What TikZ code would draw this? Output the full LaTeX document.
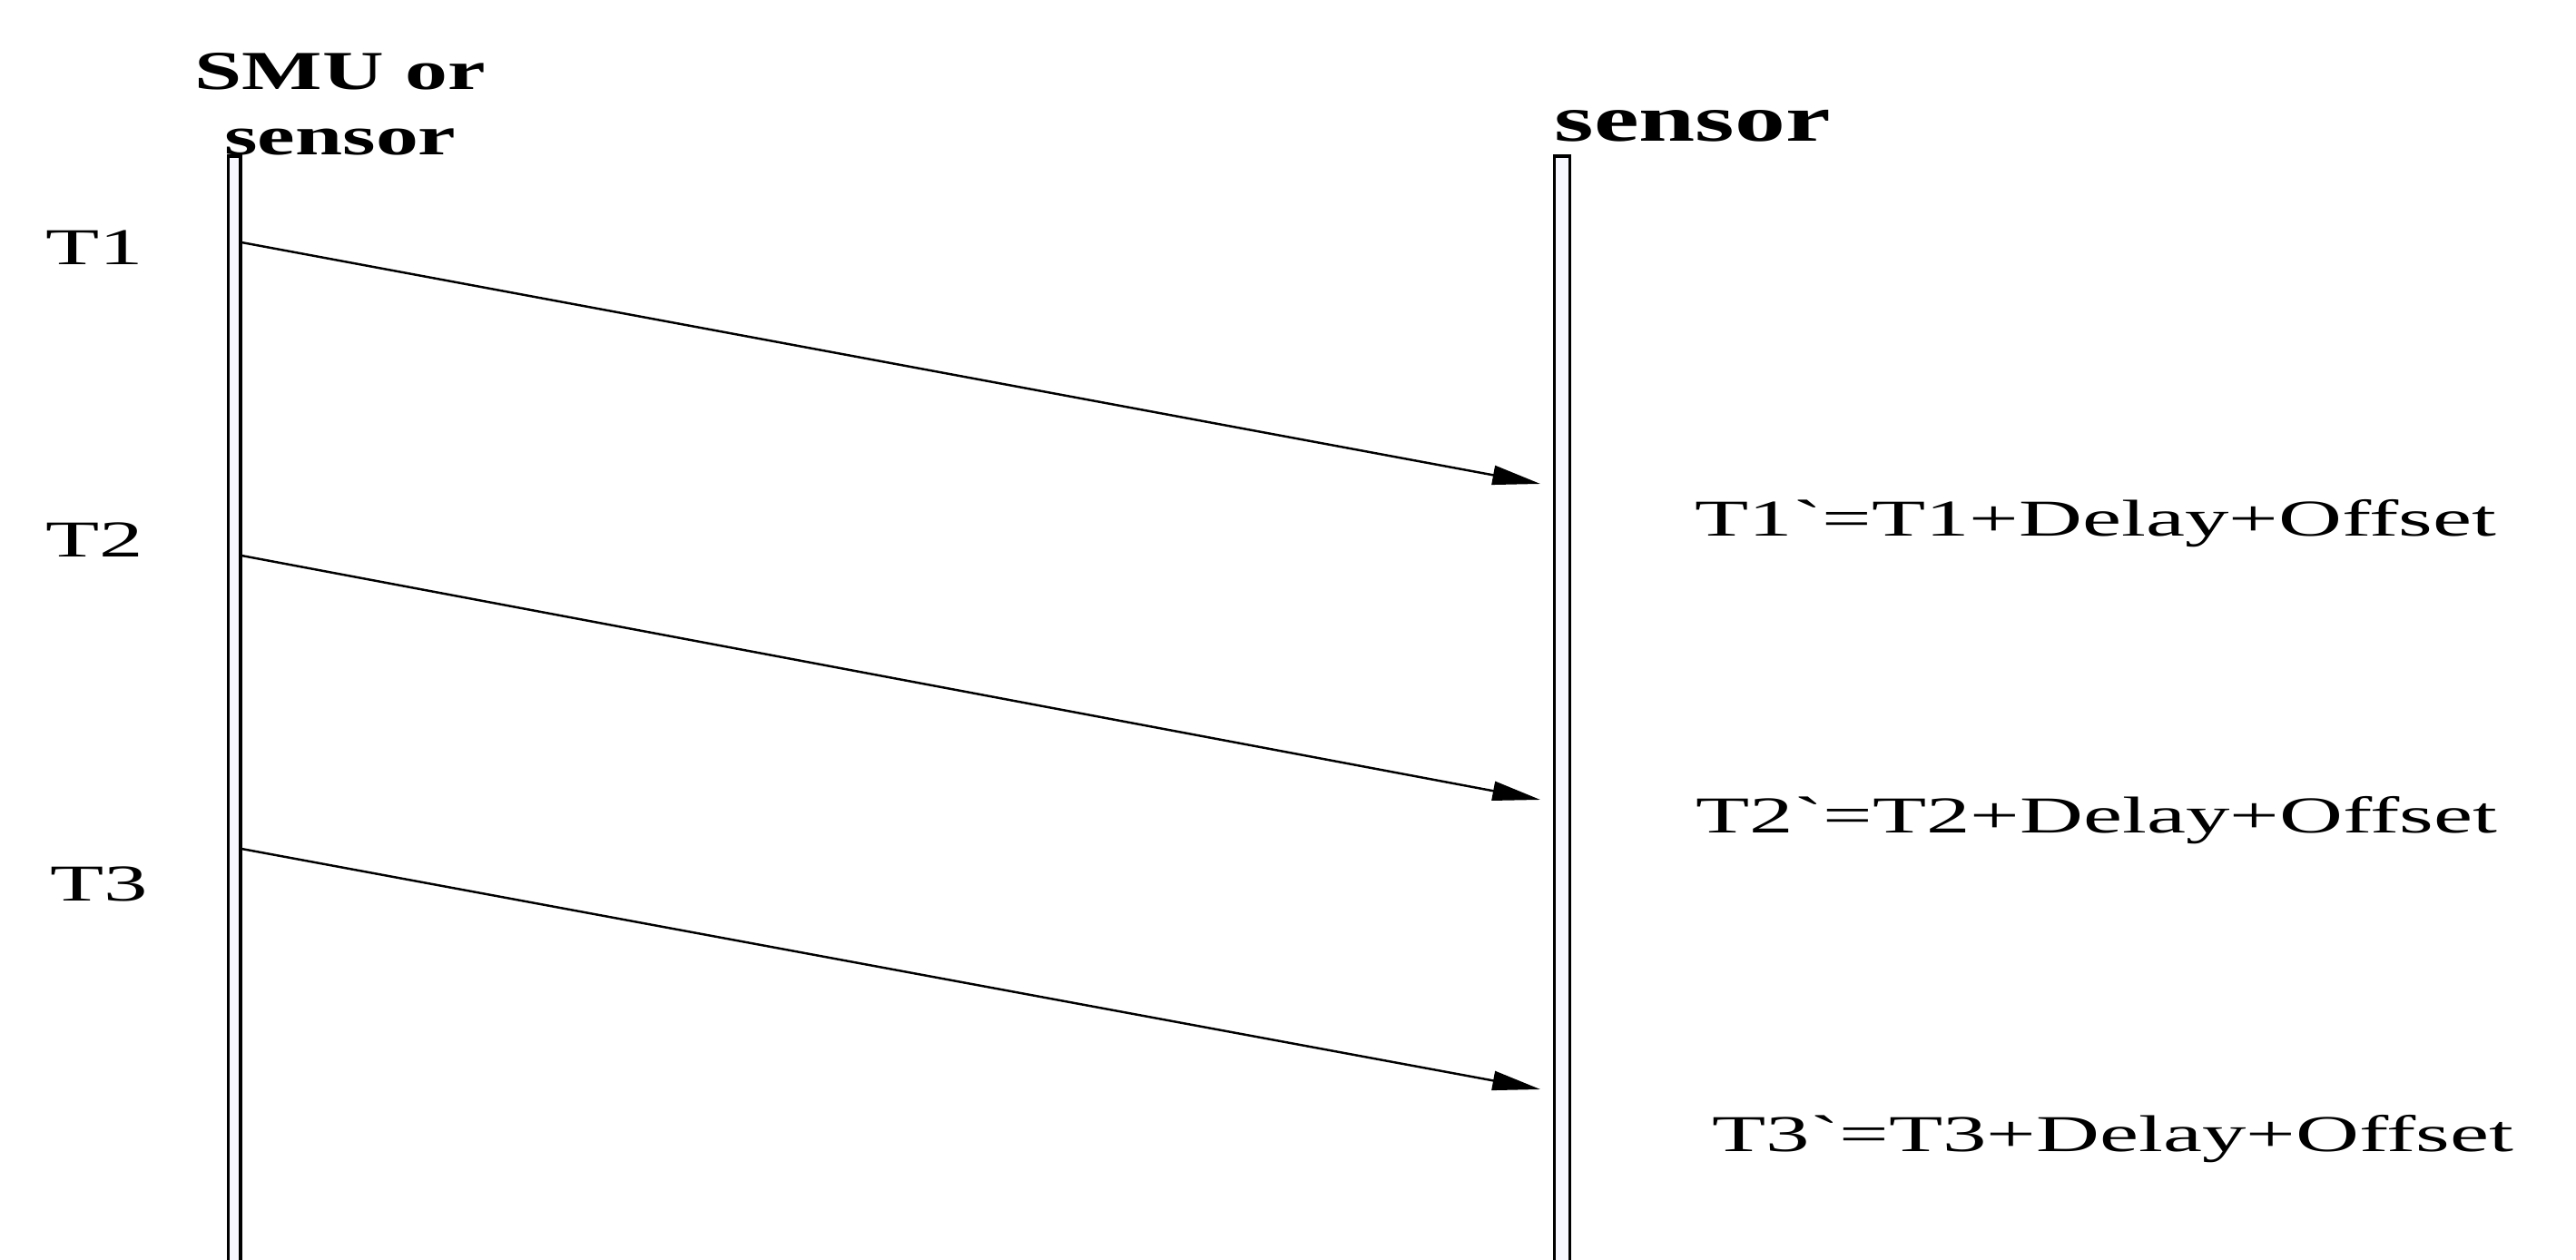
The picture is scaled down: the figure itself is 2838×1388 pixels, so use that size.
\documentclass[tikz,border=0pt]{standalone}
\usepackage{fontspec}
\setmainfont{Liberation Serif}
\newfontfamily\notefont{Liberation Serif}[FakeStretch=1.7,Ligatures=TeXOff]
\newfontfamily\headfont{Liberation Serif}[FakeStretch=1.55]
\usetikzlibrary{arrows.meta}

\begin{document}
\begin{tikzpicture}[x=0.01cm,y=-0.01cm,
  lifeline/.style={draw=black,line width=1.1pt,fill=blue!3!white},
  msg/.style={line width=0.7pt,-{Triangle[length=15pt,width=6pt]}},
  tlabel/.style={inner sep=0pt,anchor=base west,font=\notefont\fontsize{16.2}{19}\selectfont},
  head/.style={inner sep=0pt,font=\headfont\bfseries}]
\useasboundingbox (0,0) rectangle (2838,1388);

\draw[lifeline] (251.5,172) rectangle (265,1400);
\draw[lifeline] (1712.5,172) rectangle (1729.5,1400);

\node[head,anchor=south,align=center,font=\headfont\bfseries\fontsize{17.2}{20.5}\selectfont] (smu) at (375,172) {SMU or\\sensor};
\node[head,anchor=base west,font=\headfont\bfseries\fontsize{20.5}{24}\selectfont] (snr) at (1712,156) {sensor};

\coordinate (s1) at (266,267);
\coordinate (r1) at (1697,533);
\coordinate (s2) at (266,612);
\coordinate (r2) at (1697,881);
\coordinate (s3) at (266,935);
\coordinate (r3) at (1697,1200);

\draw[msg] (s1) -- (r1);
\draw[msg] (s2) -- (r2);
\draw[msg] (s3) -- (r3);

\node[tlabel] (t1) at (50,292) {T1};
\node[tlabel] (t2) at (50,613) {T2};
\node[tlabel] (t3) at (55,992) {T3};

\node[tlabel] (d1) at (1867,590) {T1`=T1+Delay+Offset};
\node[tlabel] (d2) at (1868,917) {T2`=T2+Delay+Offset};
\node[tlabel] (d3) at (1886,1268) {T3`=T3+Delay+Offset};
\end{tikzpicture}
\end{document}
